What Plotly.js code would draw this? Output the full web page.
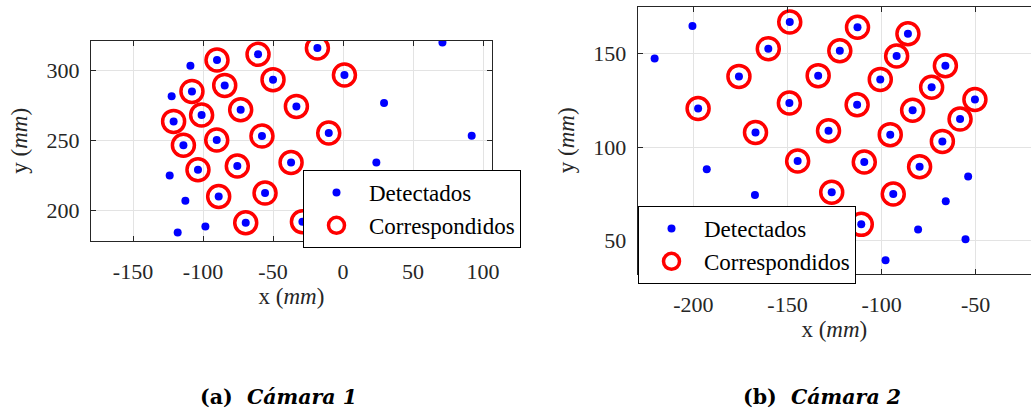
<!DOCTYPE html>
<html>
<head>
<meta charset="utf-8">
<script src="https://cdn.plot.ly/plotly-3.0.1.min.js"></script>
<style>html,body{margin:0;padding:0;background:#fff;}#chart{width:1031px;height:412px;}</style>
</head>
<body>
<div id="chart"></div>
<script>
// Cámara 1 — matched (Correspondidos) points
const cam1MatchedX = [-18.3, -60.7, -90.0, 1.0, -50.0, -84.5, -107.9, -33.3, -73.1, -101.0, -121.0, -10.2, -57.9, -90.2, -114.0, -37.1, -75.5, -103.6, -55.7, -88.8, -69.5, -29.0];
const cam1MatchedY = [316.2, 311.7, 307.6, 296.9, 293.6, 289.5, 285.2, 274.5, 272.1, 268.3, 263.8, 255.5, 253.3, 250.5, 246.7, 234.5, 231.9, 229.3, 212.6, 210.2, 191.4, 192.1];
// Cámara 1 — detected but not matched
const cam1ExtraX = [71.0, -109.0, -122.4, 29.3, 91.9, 23.8, -123.8, -112.6, -98.3, -118.1];
const cam1ExtraY = [320.2, 303.6, 281.7, 276.9, 253.6, 234.5, 225.2, 207.1, 188.8, 184.5];

// Cámara 2 — matched points
const cam2MatchedX = [-148.8, -112.8, -86.0, -160.2, -122.2, -92.0, -66.1, -175.8, -133.7, -100.7, -73.4, -50.4, -197.5, -149.0, -113.0, -83.5, -58.3, -167.0, -128.2, -95.4, -67.7, -144.6, -109.2, -79.8, -126.5, -93.8, -110.8];
const cam2MatchedY = [166.7, 163.9, 160.5, 152.5, 151.4, 148.6, 143.4, 137.7, 138.1, 136.1, 131.9, 125.4, 120.5, 123.5, 122.6, 119.6, 114.9, 107.7, 108.7, 106.6, 103.0, 92.5, 92.0, 89.5, 75.8, 74.9, 58.7];
// Cámara 2 — detected but not matched
const cam2ExtraX = [-200.5, -220.6, -192.9, -167.3, -54.0, -65.9, -80.6, -55.4, -97.9];
const cam2ExtraY = [164.6, 147.3, 88.1, 74.4, 84.3, 71.0, 56.0, 50.7, 39.5];

const seriesNames = ["Detectados", "Correspondidos"];
const captions = ["<b>(a)  <i>Cámara 1</i></b>", "<b>(b)  <i>Cámara 2</i></b>"];
const xTicks1 = [-150, -100, -50, 0, 50, 100];
const yTicks1 = [200, 250, 300];
const xTicks2 = [-200, -150, -100, -50];
const yTicks2 = [50, 100, 150];

const serif = "Times New Roman";
const captionFont = "DejaVu Serif";
const dotStyle = {color: "#0000ff", size: 8, symbol: "circle"};
const ringStyle = {color: "#ff0000", size: 22, symbol: "circle-open", line: {width: 3.5, color: "#ff0000"}};

const traces = [
  {x: cam1MatchedX.concat(cam1ExtraX), y: cam1MatchedY.concat(cam1ExtraY), xaxis: "x", yaxis: "y",
   mode: "markers", type: "scatter", name: seriesNames[0], marker: dotStyle, legend: "legend"},
  {x: cam1MatchedX, y: cam1MatchedY, xaxis: "x", yaxis: "y",
   mode: "markers", type: "scatter", name: seriesNames[1], marker: ringStyle, legend: "legend"},
  {x: cam2MatchedX.concat(cam2ExtraX), y: cam2MatchedY.concat(cam2ExtraY), xaxis: "x2", yaxis: "y2",
   mode: "markers", type: "scatter", name: seriesNames[0], marker: dotStyle, legend: "legend2"},
  {x: cam2MatchedX, y: cam2MatchedY, xaxis: "x2", yaxis: "y2",
   mode: "markers", type: "scatter", name: seriesNames[1], marker: ringStyle, legend: "legend2"}
];

function axis(ticks, extra) {
  return Object.assign({
    showline: true, linecolor: "#262626", linewidth: 1,
    showgrid: true, gridcolor: "#e3e3e3", gridwidth: 1,
    zeroline: false, ticks: "inside", ticklen: 5, tickcolor: "#262626",
    tickfont: {family: serif, size: 22, color: "#262626"},
    tickmode: "array", tickvals: ticks, ticktext: ticks.map(v => String(v)),
    autorange: false, fixedrange: true
  }, extra);
}
const titleFont = {family: serif, size: 23, color: "#262626"};
const legendBase = {
  bgcolor: "#ffffff", bordercolor: "#000000", borderwidth: 1,
  font: {family: serif, size: 23, color: "#000000"},
  xanchor: "left", yanchor: "top", itemwidth: 55, tracegroupgap: 0
};

const layout = {
  width: 1031, height: 412,
  margin: {l: 0, r: 0, t: 0, b: 0},
  paper_bgcolor: "#ffffff", plot_bgcolor: "#ffffff",
  font: {family: serif},
  showlegend: true,
  xaxis: axis(xTicks1, {domain: [91/1031, 492/1031], range: [-180, 106.4], mirror: "ticks",
    anchor: "y", ticklabelstandoff: 11,
    title: {text: "x (<i>mm</i>)", font: titleFont, standoff: 4}}),
  yaxis: axis(yTicks1, {domain: [1 - 241/412, 1 - 40.7/412], range: [178.4, 321.4], mirror: "ticks",
    anchor: "x", ticklabelstandoff: 6,
    title: {text: "y (<i>mm</i>)", font: titleFont, standoff: 12}}),
  xaxis2: axis(xTicks2, {domain: [637.7/1031, 1], range: [-229.6, -20.6], mirror: "ticks",
    anchor: "y2", ticklabelstandoff: 11,
    title: {text: "x (<i>mm</i>)", font: titleFont, standoff: 2}}),
  yaxis2: axis(yTicks2, {domain: [1 - 274/412, 1 - 6.7/412], range: [32.2, 174.9], mirror: false,
    anchor: "x2", ticklabelstandoff: 6,
    title: {text: "y (<i>mm</i>)", font: titleFont, standoff: 12}}),
  legend: Object.assign({x: 303/1031, y: 1 - 170/412}, legendBase),
  legend2: Object.assign({x: 638/1031, y: 1 - 206/412}, legendBase),
  annotations: [
    {text: captions[0], xref: "paper", yref: "paper", x: 278/1031, y: 1 - 397/412, xanchor: "center", yanchor: "middle",
     showarrow: false, font: {family: captionFont, size: 20.5, color: "#000000"}},
    {text: captions[1], xref: "paper", yref: "paper", x: 822/1031, y: 1 - 397/412, xanchor: "center", yanchor: "middle",
     showarrow: false, font: {family: captionFont, size: 20.5, color: "#000000"}}
  ]
};

Plotly.newPlot("chart", traces, layout, {staticPlot: true, displayModeBar: false});
</script>
</body>
</html>
